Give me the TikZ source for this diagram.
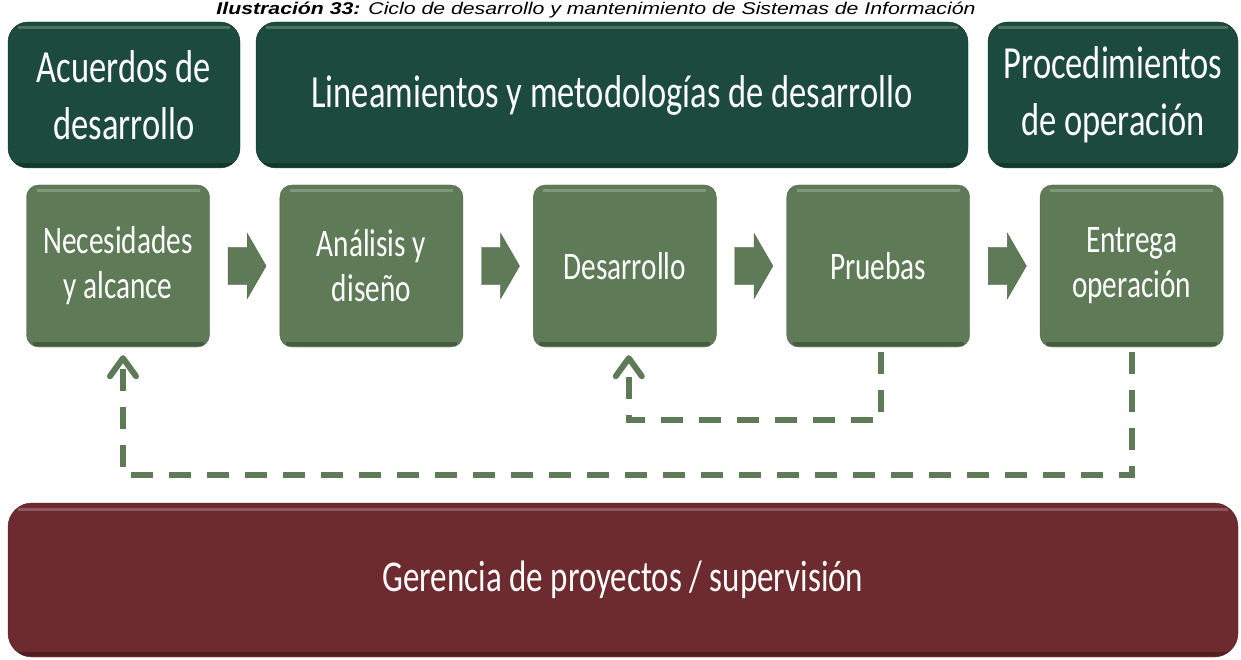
\documentclass[tikz,border=0pt]{standalone}
\usepackage{fontspec}
\setmainfont{Carlito}
\newfontfamily\boxfont[FakeStretch=0.75]{Carlito}
\newfontfamily\capfont[FakeStretch=1.25]{Liberation Sans}
\usetikzlibrary{arrows.meta, positioning, shapes.arrows, calc}
\definecolor{topgreen}{HTML}{1C4A3C}
\definecolor{stepgreen}{HTML}{5F7A57}
\definecolor{mgmtred}{HTML}{6D2A2F}
\tikzset{
  bevel/.style = {path picture={
                    \draw[white, opacity=0.22, line width=3pt]
                      ([xshift=10pt, yshift=-6pt]path picture bounding box.north west) --
                      ([xshift=-10pt, yshift=-6pt]path picture bounding box.north east);
                    \draw[black, opacity=0.25, line width=4pt]
                      ([xshift=6pt, yshift=3pt]path picture bounding box.south west) --
                      ([xshift=-6pt, yshift=3pt]path picture bounding box.south east);}},
  guide/.style = {bevel, draw=topgreen!70!black, fill=topgreen, text=white, align=center,
                  rounded corners=20pt, inner sep=0pt, minimum height=146pt,
                  font=\boxfont\fontsize{46}{57}\selectfont},
  stage/.style = {bevel, draw=stepgreen!85!black, fill=stepgreen, text=white, align=center,
                  rounded corners=12pt, inner sep=0pt, minimum width=183pt,
                  minimum height=162pt, font=\boxfont\fontsize{39}{45}\selectfont},
  mgmt/.style  = {bevel, draw=mgmtred!75!black, fill=mgmtred, text=white, align=center,
                  rounded corners=24pt, inner sep=0pt, minimum height=154pt,
                  font=\boxfont\fontsize{44}{50}\selectfont},
  fwd/.style   = {single arrow, fill=stepgreen, draw=stepgreen!85!black,
                  inner xsep=0pt, inner ysep=18.5pt, minimum height=38pt,
                  single arrow head extend=14pt, single arrow tip angle=120},
  fb/.style    = {stepgreen, line width=6pt, dash pattern=on 22pt off 16pt,
                  -{Straight Barb[length=18pt,width=26pt,round]},
                  shorten <=5pt, shorten >=8pt},
}
\begin{document}
\begin{tikzpicture}[x=1pt, y=-1pt]
  \useasboundingbox (0,0) rectangle (1241,660);
  \node[anchor=base, inner sep=0pt, font=\capfont\fontsize{17}{20}\selectfont\itshape] (cap) at (596,15)
       {\textbf{Ilustración 33:} Ciclo de desarrollo y mantenimiento de Sistemas de Información};
  % lineamientos
  \node[guide, minimum width=232pt] (agree)  at (124,95)  {Acuerdos de\\desarrollo};
  \node[guide, minimum width=712pt] (method) at (612,95)  {Lineamientos y metodologías de desarrollo};
  \node[guide, minimum width=250pt] (proc)   at (1113,95) {Procedimientos\\de operación};
  % etapas
  \node[stage] (need) at (118,266) {Necesidades\\y alcance};
  \node[stage, right=70pt of need]   (design)  {Análisis y\\diseño};
  \node[stage, right=70pt of design] (build)   {Desarrollo};
  \node[stage, right=70pt of build]  (test)    {Pruebas};
  \node[stage, right=70pt of test]   (deliver) {Entrega\\operación};
  \node[fwd, xshift=-3pt] (a1) at ($(need.east)!0.5!(design.west)$)   {};
  \node[fwd, xshift=-3pt] (a2) at ($(design.east)!0.5!(build.west)$)  {};
  \node[fwd, xshift=-3pt] (a3) at ($(build.east)!0.5!(test.west)$)    {};
  \node[fwd, xshift=-3pt] (a4) at ($(test.east)!0.5!(deliver.west)$)  {};
  \draw[fb] ([xshift=3pt]test.south) -- ++(0,73) -| ([xshift=4pt]build.south);
  \draw[fb] (deliver.south) -- ++(0,128) -| ([xshift=5pt]need.south);
  % gerencia
  \node[mgmt, minimum width=1230pt] (pm) at (623,580) {Gerencia de proyectos / supervisión};
\end{tikzpicture}
\end{document}
